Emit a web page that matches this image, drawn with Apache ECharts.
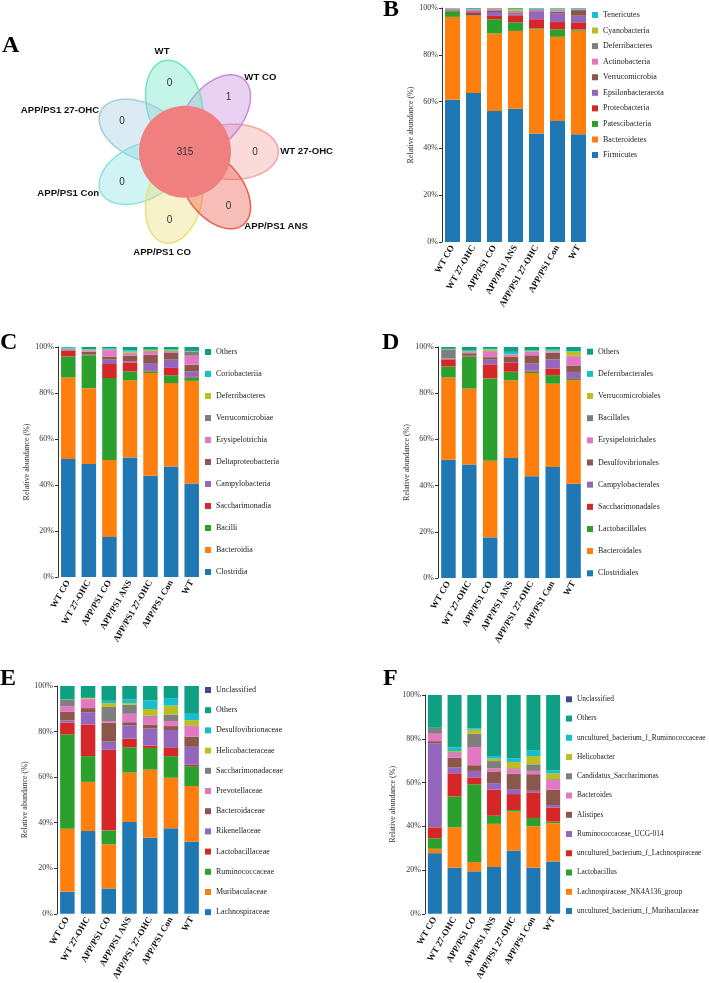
<!DOCTYPE html>
<html><head><meta charset="utf-8">
<script src="https://cdn.jsdelivr.net/npm/echarts@6/dist/echarts.min.js"></script>
<style>html,body{margin:0;padding:0;background:#fff}#c{width:709px;height:983px}</style>
</head><body><div id="c"></div>
<script>
// ---------------- data ----------------
const groups = ['WT CO','WT 27-OHC','APP/PS1 CO','APP/PS1 ANS','APP/PS1 27-OHC','APP/PS1 Con','WT'];

const vennNames = ['WT 27-OHC','WT CO','WT','APP/PS1 27-OHC','APP/PS1 Con','APP/PS1 CO','APP/PS1 ANS'];
const vennUnique = [0,1,0,0,0,0,0];
const vennCore = 315;

const phylumNames = ['Firmicutes','Bacteroidetes','Patescibacteria','Proteobacteria','Epsilonbacteraeota','Verrucomicrobia','Actinobacteria','Deferribacteres','Cyanobacteria','Tenericutes'];
const phylumValues = [
  [60.8,63.7,56.0,56.9,46.4,51.7,46.0],
  [35.4,33.0,33.1,33.3,44.5,36.0,44.3],
  [2.4,0.3,6.1,3.7,0.4,3.2,0.5],
  [0.3,0.9,1.4,2.7,3.9,3.1,3.1],
  [0.2,0.5,1.7,0.6,3.3,3.8,2.8],
  [0.3,0.3,0.7,0.6,0.5,0.6,2.4],
  [0.3,0.6,0.5,0.6,0.3,0.5,0.3],
  [0.1,0.2,0.3,0.4,0.3,0.5,0.2],
  [0.05,0.1,0.1,0.8,0.1,0.3,0.1],
  [0.15,0.4,0.1,0.4,0.3,0.3,0.3]
];

const classNames = ['Clostridia','Bacteroidia','Bacilli','Saccharimonadia','Campylobacteria','Deltaproteobacteria','Erysipelotrichia','Verrucomicrobiae','Deferribacteres','Coriobacteriia','Others'];
const classValues = [
  [51.3,49.1,17.4,52.0,44.0,48.0,40.7],
  [35.5,33.0,33.5,33.5,44.7,36.3,44.6],
  [9.1,14.3,35.6,3.9,0.7,3.4,1.4],
  [2.5,0.2,6.1,3.9,0.2,3.2,0.3],
  [0.2,0.1,1.9,0.4,3.4,3.6,2.4],
  [0.3,1.3,1.2,2.5,3.7,2.9,2.9],
  [0.2,0.4,2.9,1.0,1.3,0.5,3.9],
  [0.1,0.2,0.3,0.3,0.3,0.3,1.9],
  [0.1,0.3,0.1,0.5,0.4,0.4,0.1],
  [0.6,0.2,0.3,0.5,0.2,0.3,0.1],
  [0.1,0.9,0.7,1.5,1.1,1.1,1.7]
];

const orderNames = ['Clostridiales','Bacteroidales','Lactobacillales','Saccharimonadales','Campylobacterales','Desulfovibrionales','Erysipelotrichales','Bacillales','Verrucomicrobiales','Deferribacterales','Others'];
const orderValues = [
  [51.2,49.1,17.6,51.9,44.0,48.1,40.8],
  [35.6,32.9,33.2,33.6,44.7,36.0,44.8],
  [4.8,13.9,35.6,3.8,0.7,3.7,0.6],
  [2.9,0.2,6.1,3.8,0.3,2.9,0.3],
  [0.1,0.1,2.0,0.4,3.1,3.9,2.7],
  [0.3,1.1,1.1,2.4,3.6,2.9,2.8],
  [0.1,0.4,2.5,0.7,1.5,0.4,3.9],
  [4.0,0.4,0.2,0.2,0.2,0.2,0.3],
  [0.1,0.2,0.6,0.2,0.2,0.3,1.8],
  [0.1,0.4,0.3,0.9,0.2,0.5,0.2],
  [0.8,1.3,0.8,2.1,1.5,1.1,1.8]
];

const familyNames = ['Lachnospiraceae','Muribaculaceae','Ruminococcaceae','Lactobacillaceae','Rikenellaceae','Bacteroidaceae','Prevotellaceae','Saccharimonadaceae','Helicobacteraceae','Desulfovibrionaceae','Others','Unclassified'];
const familyValues = [
  [9.7,36.3,11.1,40.3,33.4,37.5,31.6],
  [27.6,21.6,19.4,21.7,29.9,22.2,24.5],
  [41.5,11.3,6.0,11.1,9.5,9.5,8.7],
  [5.1,13.9,35.5,3.8,1.0,3.6,0.6],
  [1.0,5.4,3.6,5.8,7.5,7.9,7.9],
  [3.9,1.8,8.3,1.4,1.8,1.7,4.5],
  [2.3,3.9,0.7,3.7,3.4,2.2,4.6],
  [2.9,0.2,6.2,4.0,0.5,2.9,0.3],
  [0.1,0.4,1.7,0.7,2.9,3.9,2.3],
  [0.0,0.0,1.0,1.7,3.8,3.3,2.8],
  [5.9,5.2,6.5,5.8,6.3,5.3,12.2],
  [0,0,0,0,0,0,0]
];

const genusNames = ['uncultured_bacterium_f_Muribaculaceae','Lachnospiraceae_NK4A136_group','Lactobacillus','uncultured_bacterium_f_Lachnospiraceae','Ruminococcaceae_UCG-014','Alistipes','Bacteroides','Candidatus_Saccharimonas','Helicobacter','uncultured_bacterium_f_Ruminococcaceae','Others','Unclassified'];
const genusValues = [
  [27.7,21.1,19.4,21.4,28.9,21.1,23.9],
  [2.0,18.4,4.2,19.7,17.8,18.9,17.5],
  [4.8,14.1,35.6,3.7,0.7,3.8,0.7],
  [5.0,10.6,3.1,11.9,7.3,11.7,6.5],
  [38.4,2.6,3.0,3.0,2.3,0.7,1.1],
  [1.0,4.6,2.6,5.1,7.1,7.6,7.0],
  [3.4,2.2,8.3,1.6,2.0,1.5,4.4],
  [2.7,0.3,6.1,3.4,0.4,3.0,0.4],
  [0,0.5,1.8,1.1,2.9,3.8,2.7],
  [0,1.7,0.6,1.2,1.7,2.7,1.4],
  [15.0,23.9,15.3,27.9,28.9,25.2,34.4],
  [0,0,0,0,0,0,0]
];

const yTicks = [0,20,40,60,80,100];

// ---------------- styles ----------------
const taxaColors = ['#1f77b4','#ff7f0e','#2ca02c','#d62728','#9467bd','#8c564b','#e377c2','#7f7f7f','#bcbd22','#17becf','#0fa083','#3a4f8f'];
const vennStroke = ['#f6a3a3','#c98bdc','#6ee6c0','#a3cde0','#86e3e0','#ecde78','#ea5d4c'];
const SERIF = '"Liberation Serif","Times New Roman",serif';
const SANS = '"Liberation Sans",Arial,sans-serif';

function hexA(h, a){
  const r=parseInt(h.slice(1,3),16), g=parseInt(h.slice(3,5),16), b=parseInt(h.slice(5,7),16);
  return 'rgba('+r+','+g+','+b+','+a+')';
}

const panels = [
  {key:'B', names:phylumNames, values:phylumValues, grid:{left:442,top:8,width:147,height:234}, legend:{left:592,top:10,itemGap:5.56,fontSize:8}, barWidth:15, nameGap:27},
  {key:'C', names:classNames, values:classValues, grid:{left:58,top:347,width:144,height:230}, legend:{left:205,top:347,itemGap:12,fontSize:8}, barWidth:14.5, nameGap:27},
  {key:'D', names:orderNames, values:orderValues, grid:{left:438,top:347,width:146,height:231}, legend:{left:587,top:346.7,itemGap:12.16,fontSize:8}, barWidth:14.5, nameGap:27},
  {key:'E', names:familyNames, values:familyValues, grid:{left:57,top:686,width:145,height:231}, legend:{left:205,top:685,itemGap:10.2,fontSize:8}, barWidth:14.5, nameGap:28},
  {key:'F', names:genusNames, values:genusValues, grid:{left:425,top:695,width:138,height:220}, legend:{left:566,top:694.3,itemGap:9.25,fontSize:7.4}, barWidth:14, nameGap:28}
];

const grid=[], xAxis=[], yAxis=[], series=[], legend=[];
panels.forEach((p,i)=>{
  grid.push(Object.assign({containLabel:false}, p.grid));
  xAxis.push({type:'category', gridIndex:i, data:groups,
    axisLine:{show:false}, axisTick:{show:false},
    axisLabel:{rotate:60, interval:0, margin:4, fontFamily:SERIF, fontWeight:'bold', fontSize:9, color:'#111'}});
  yAxis.push({type:'value', gridIndex:i, min:yTicks[0], max:yTicks[yTicks.length-1], interval:yTicks[1]-yTicks[0],
    axisLine:{show:true, lineStyle:{color:'#333', width:1}},
    axisTick:{show:true, length:3, lineStyle:{color:'#333'}},
    splitLine:{show:false},
    axisLabel:{formatter:'{value}%', margin:4, fontFamily:SERIF, fontSize:8, color:'#333'},
    name:'Relative abundance (%)', nameLocation:'middle', nameGap:p.nameGap,
    nameTextStyle:{fontFamily:SERIF, fontSize:8, color:'#333'}});
  p.names.forEach((n,j)=>{
    series.push({type:'bar', name:p.key+':'+n, xAxisIndex:i, yAxisIndex:i, stack:p.key,
      barWidth:p.barWidth, data:p.values[j], itemStyle:{color:taxaColors[j]},
      emphasis:{disabled:true}, silent:true});
  });
  legend.push({orient:'vertical', left:p.legend.left, top:p.legend.top, itemGap:p.legend.itemGap,
    itemWidth:6, itemHeight:6, padding:0, icon:'rect', selectedMode:false,
    data:p.names.slice().reverse().map(n=>p.key+':'+n),
    formatter:n=>n.slice(2),
    textStyle:{fontFamily:SERIF, fontSize:p.legend.fontSize, color:'#222', lineHeight:10}});
});

// Venn (flower) panel on its own hidden cartesian grid: 1 unit = core circle radius
grid.push({left:1, top:0, width:368, height:303.6});
xAxis.push({type:'value', gridIndex:5, min:-4, max:4, show:false});
yAxis.push({type:'value', gridIndex:5, min:-3.3, max:3.3, show:false});

function petalRender(params, api){
  const i = api.value(0), count = api.value(1);
  const th = i*2*Math.PI/vennNames.length;
  const c = Math.cos(th), s = Math.sin(th);
  const d=1.05, a=0.98, b=0.6;
  const pts=[];
  for(let k=0;k<90;k++){
    const t=k/90*2*Math.PI, u=a*Math.cos(t), v=b*Math.sin(t);
    pts.push(api.coord([d*c+u*c-v*s, d*s+u*s+v*c]));
  }
  const lp = api.coord([1.52*c, 1.52*s]);
  let align='center', r=2.24;
  if(c>0.5){align='left'; r=2.07;} else if(c<-0.5){align='right'; r=2.07;}
  const np = api.coord([r*c, r*s]);
  return {type:'group', children:[
    {type:'polygon', shape:{points:pts}, style:{fill:hexA(vennStroke[i],0.4), stroke:vennStroke[i], lineWidth:1.5}},
    {type:'text', x:lp[0], y:lp[1], style:{text:String(count), fill:'#333', font:'10px '+SANS, align:'center', verticalAlign:'middle'}},
    {type:'text', x:np[0], y:np[1], style:{text:vennNames[i], fill:'#111', font:'bold 9.6px '+SANS, align:align, verticalAlign:'middle'}}
  ]};
}
function coreRender(params, api){
  const p = api.coord([0,0]);
  const r = api.size([1,0])[0];
  return {type:'group', children:[
    {type:'circle', shape:{cx:p[0], cy:p[1], r:r}, style:{fill:'#f07f7f'}},
    {type:'text', x:p[0], y:p[1], style:{text:String(api.value(2)), fill:'#333', font:'10px '+SANS, align:'center', verticalAlign:'middle'}}
  ]};
}
series.push({type:'custom', xAxisIndex:5, yAxisIndex:5, renderItem:petalRender, silent:true, z:2,
  data:vennNames.map((n,i)=>[i, vennUnique[i]])});
series.push({type:'custom', xAxisIndex:5, yAxisIndex:5, renderItem:coreRender, silent:true, z:3,
  data:[[0,0,vennCore]]});

const letterStyle = {fontFamily:SERIF, fontWeight:'bold', fontSize:24, color:'#000'};
const title = [
  {text:'A', left:2, top:34},
  {text:'B', left:383, top:-2},
  {text:'C', left:0, top:331},
  {text:'D', left:382, top:331},
  {text:'E', left:0, top:667},
  {text:'F', left:383, top:667}
].map(t=>Object.assign(t,{padding:0, textStyle:letterStyle}));

const chart = echarts.init(document.getElementById('c'), null, {renderer:'canvas'});
chart.setOption({animation:false, backgroundColor:'#fff', title, grid, xAxis, yAxis, legend, series});
</script></body></html>
